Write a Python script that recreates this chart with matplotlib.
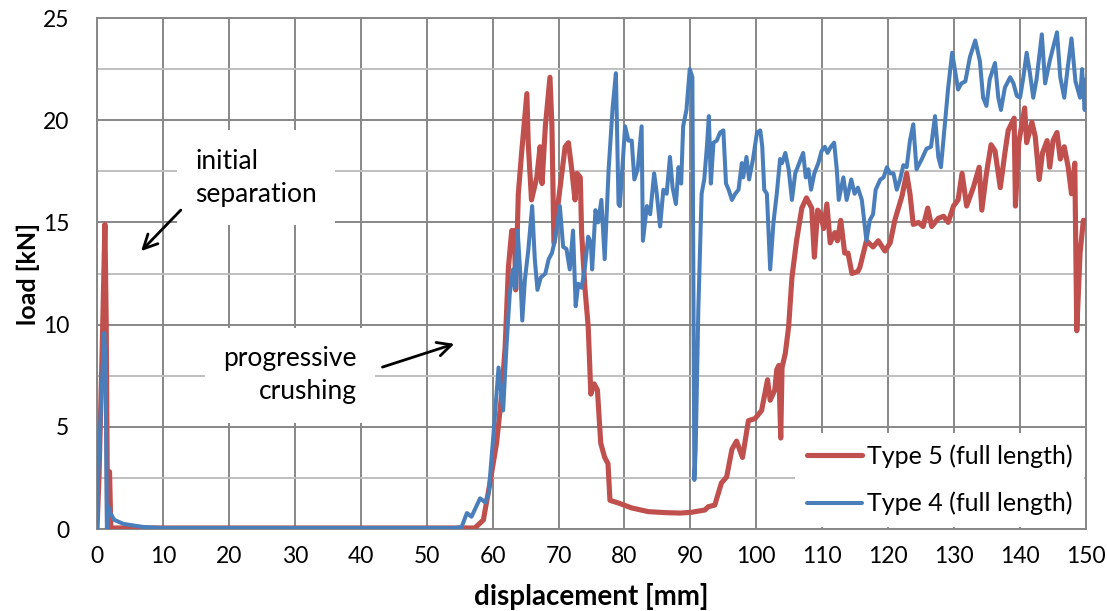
import matplotlib
matplotlib.use("Agg")
import matplotlib.pyplot as plt

plt.rcParams['font.family'] = ['Lato', 'DejaVu Sans']

# ---- data ----
type5_pts = [
    (0, 0), (0.3, 2.5), (0.8, 9), (1.2, 14.9), (1.4, 10), (1.6, 0.3), (1.9, 2.8), (2.1, 0.05),
    (3, 0.05), (10, 0.05), (20, 0.05), (30, 0.05), (40, 0.05), (50, 0.05), (56, 0.05),
    (57.3, 0.05), (58.6, 0.44), (59.6, 2.25), (60.6, 4.2), (61.4, 6.65), (61.9, 8.9),
    (62.4, 12.8), (62.9, 14.6), (63.3, 14.6), (63.5, 11.7), (63.9, 16.4), (64.4, 18.4),
    (65.2, 21.3), (65.4, 18.9), (65.9, 16.1), (66.7, 17.2), (67.2, 18.7), (67.5, 16.9),
    (68.0, 19.7), (68.7, 22.1), (69.0, 19.7), (69.3, 14.0), (70.0, 16.1), (71.0, 18.7),
    (71.5, 18.9), (72.0, 17.6), (72.5, 16.1), (72.8, 17.4), (73.3, 17.2), (73.5, 14.5),
    (74.0, 11.8), (74.5, 9.9), (74.9, 6.6), (75.4, 7.1), (75.9, 6.8), (76.4, 4.2),
    (77.0, 3.5), (77.5, 3.2), (77.8, 1.4), (79.1, 1.27), (81.1, 1.03), (83.6, 0.85),
    (86.2, 0.8), (88.5, 0.78), (90.2, 0.82), (92.2, 0.93), (92.7, 1.09), (93.7, 1.17),
    (94.7, 2.25), (95.5, 2.55), (96.3, 3.9), (97.0, 4.3), (97.9, 3.5), (98.8, 5.3),
    (99.8, 5.4), (100.8, 5.8), (101.7, 7.3), (102.1, 6.3), (102.8, 6.8), (103.1, 7.8),
    (103.4, 8.0), (103.7, 4.45), (103.9, 7.9), (104.4, 8.6), (104.9, 9.9), (105.4, 12.3),
    (106.1, 14.1), (106.9, 15.7), (107.6, 16.2), (108.4, 15.7), (108.8, 13.3), (109.3, 15.6),
    (109.8, 15.4), (110.2, 14.7), (110.7, 15.9), (111.2, 14.0), (111.9, 14.5), (112.3, 14.1),
    (112.8, 15.1), (113.4, 13.5), (113.9, 13.5), (114.5, 12.5), (115.4, 12.6), (115.7, 12.8),
    (116.7, 14.1), (117.7, 13.8), (118.5, 14.1), (119.5, 13.6), (120.3, 14.0), (121.0, 15.1),
    (122.1, 16.3), (122.8, 17.4), (123.3, 16.4), (123.8, 14.9), (124.6, 15.0), (125.3, 14.8),
    (126.0, 15.7), (126.6, 14.8), (127.6, 15.2), (128.4, 15.3), (129.1, 15.0), (129.9, 15.8),
    (130.6, 16.1), (131.2, 17.4), (131.9, 15.8), (132.9, 16.7), (133.8, 17.7), (134.2, 15.6),
    (134.9, 17.4), (135.6, 18.8), (136.2, 18.5), (137.0, 16.7), (137.7, 18.4), (138.2, 19.5),
    (139.1, 20.1), (139.3, 15.8), (139.8, 18.9), (140.7, 20.6), (141.0, 18.9), (141.8, 19.9),
    (142.3, 19.2), (142.9, 17.1), (143.4, 18.4), (144.1, 19.0), (144.5, 17.7), (145.0, 19.0),
    (145.6, 19.4), (146.1, 18.1), (146.7, 18.7), (147.3, 17.7), (147.8, 16.4), (148.1, 17.2),
    (148.3, 17.9), (148.6, 9.7), (149.1, 13.5), (149.6, 15.1), (150.0, 15.1),
]

type4_pts = [
    (0, 0), (0.05, 1.5), (0.6, 6), (1.1, 9.6), (1.3, 8), (1.5, 0), (1.7, 1.1), (2.0, 0.8),
    (2.6, 0.45), (4, 0.25), (7, 0.1), (10, 0.05), (20, 0.05), (30, 0.05), (40, 0.05),
    (50, 0.05), (54.3, 0.05), (55.3, 0.1), (56.1, 0.78), (56.8, 0.6), (58.1, 1.5),
    (58.9, 1.3), (59.4, 1.75), (60.1, 4.5), (60.9, 7.9), (61.6, 5.8), (62.1, 8.9),
    (62.6, 11.5), (63.1, 12.7), (63.4, 11.8), (63.8, 14.6), (64.2, 12.5), (64.5, 10.2),
    (64.9, 12.2), (65.4, 13.6), (66.0, 15.8), (66.4, 13.2), (66.8, 11.7), (67.3, 12.3),
    (68.0, 12.5), (68.5, 13.2), (69.0, 13.5), (69.5, 14.2), (70.2, 15.8), (70.7, 13.8),
    (71.2, 13.7), (71.7, 12.7), (72.2, 14.6), (72.6, 10.9), (73.0, 12.0), (73.5, 11.8),
    (74.0, 12.8), (74.5, 14.3), (74.9, 14.0), (75.1, 12.7), (75.6, 15.6), (76.0, 15.0),
    (76.5, 16.1), (77.0, 13.2), (77.6, 17.6), (78.2, 20.6), (78.7, 22.3), (79.1, 15.9),
    (79.3, 15.8), (80.1, 19.7), (80.6, 19.0), (81.1, 19.0), (81.5, 17.1), (82.0, 17.6),
    (82.6, 19.7), (82.8, 14.1), (83.4, 15.8), (83.9, 15.4), (84.5, 17.4), (84.9, 16.4),
    (85.4, 14.8), (85.9, 16.6), (86.4, 16.4), (86.9, 18.2), (87.3, 16.7), (87.8, 15.9),
    (88.2, 17.7), (88.6, 16.9), (88.9, 19.7), (89.4, 20.5), (89.9, 22.5), (90.3, 22.1),
    (90.6, 2.4), (90.8, 3.9), (91.2, 10.7), (91.7, 16.4), (92.1, 17.1), (92.5, 18.7),
    (92.8, 20.2), (93.1, 16.9), (93.5, 18.9), (94.0, 19.0), (94.5, 19.4), (95.0, 19.5),
    (95.4, 16.9), (95.8, 16.6), (96.3, 16.1), (96.8, 16.4), (97.3, 16.6), (97.8, 17.9),
    (98.0, 17.2), (98.5, 18.2), (98.9, 17.1), (99.5, 18.1), (100.1, 19.4), (100.6, 19.5),
    (100.9, 18.7), (101.2, 16.6), (101.6, 16.4), (102.1, 12.7), (102.6, 15.0), (103.1, 16.4),
    (103.6, 18.1), (103.9, 17.9), (104.4, 18.4), (104.9, 17.6), (105.4, 16.1), (105.9, 17.4),
    (106.5, 17.9), (107.1, 18.4), (107.5, 17.2), (107.9, 17.6), (108.3, 16.6), (108.8, 17.4),
    (109.4, 17.9), (109.9, 18.5), (110.4, 18.7), (110.8, 18.4), (111.3, 18.7), (111.8, 18.9),
    (112.2, 17.6), (112.5, 16.1), (113.2, 17.2), (113.7, 16.1), (114.4, 17.1), (114.9, 16.4),
    (115.4, 16.7), (116.0, 16.1), (116.7, 14.1), (117.2, 15.1), (117.7, 15.4), (118.1, 16.6),
    (118.8, 17.1), (119.3, 17.2), (119.8, 17.7), (120.3, 17.4), (120.8, 17.4), (121.3, 16.6),
    (121.8, 17.1), (122.3, 17.8), (122.8, 17.7), (123.3, 19.0), (123.8, 19.8), (124.3, 17.6),
    (125.1, 18.1), (125.8, 18.6), (126.5, 18.7), (127.1, 20.2), (127.6, 18.2), (128.0, 17.7),
    (128.5, 19.5), (129.1, 21.6), (129.7, 23.3), (130.1, 22.5), (130.6, 21.5), (131.1, 21.8),
    (131.7, 21.9), (132.4, 23.1), (133.2, 23.9), (133.9, 22.9), (134.4, 21.1), (134.9, 20.7),
    (135.4, 22.0), (136.2, 22.8), (136.7, 21.1), (137.1, 20.5), (137.7, 21.6), (138.5, 22.1),
    (139.0, 21.8), (139.5, 21.2), (140.0, 21.1), (140.5, 22.1), (141.0, 23.3), (141.5, 22.3),
    (142.0, 21.1), (142.5, 22.0), (143.3, 24.2), (143.8, 21.8), (144.5, 22.9), (145.6, 24.3),
    (146.1, 22.1), (146.7, 21.1), (147.2, 22.5), (147.8, 24.0), (148.4, 21.9), (149.1, 21.1),
    (149.4, 22.5), (149.8, 20.5), (150.0, 22.0),
]

series_labels = ["Type 5 (full length)", "Type 4 (full length)"]
x_ticks = list(range(0, 151, 10))
y_ticks = list(range(0, 26, 5))
y_minor = [2.5, 7.5, 12.5, 17.5, 22.5]

t5_x, t5_y = zip(*type5_pts)
t4_x, t4_y = zip(*type4_pts)

RED = '#C0504D'
BLUE = '#4A7EBB'
GRID_MAJ = '#878787'
GRID_MIN = '#BFBFBF'

fig = plt.figure(figsize=(11.07, 6.11), dpi=100)
W, H = 1107, 611
ax = fig.add_axes([97 / W, 1 - 529 / H, (1086 - 97) / W, (529 - 18) / H])

ax.plot(t5_x, t5_y, color=RED, lw=3.7, solid_joinstyle='round', solid_capstyle='round',
        label=series_labels[0], zorder=3)
ax.plot(t4_x, t4_y, color=BLUE, lw=2.9, solid_joinstyle='round', solid_capstyle='round',
        label=series_labels[1], zorder=4)

ax.set_xlim(0, 150)
ax.set_ylim(0, 25)
ax.set_xticks(x_ticks)
ax.set_yticks(y_ticks)
ax.set_yticks(y_minor, minor=True)
ax.grid(which='major', color=GRID_MAJ, lw=1.4, zorder=0)
ax.grid(which='minor', axis='y', color=GRID_MIN, lw=1.4, zorder=0)
ax.set_axisbelow(True)
for s in ax.spines.values():
    s.set_color(GRID_MAJ)
    s.set_linewidth(1.4)
ax.tick_params(axis='both', which='major', labelsize=16.5, length=0, colors='black')
ax.tick_params(axis='x', pad=12)
ax.tick_params(axis='y', pad=20)
ax.tick_params(which='minor', length=0)

ax.set_xlabel('displacement [mm]', fontsize=20, fontweight='bold', labelpad=12)
ax.set_ylabel('load [kN]', fontsize=18, fontweight='bold', labelpad=2)

# annotations
box = dict(boxstyle='square,pad=0.7', facecolor='white', edgecolor='none')
ax.text(14.9, 18.6, 'initial\nseparation', fontsize=19, ha='left', va='top',
        linespacing=1.4, bbox=box, zorder=5)
ax.annotate('', xy=(6.4, 13.5), xytext=(13.0, 15.7),
            arrowprops=dict(arrowstyle='->', lw=2, color='black', mutation_scale=25), zorder=6)

ax.text(39.4, 8.95, 'progressive\ncrushing', fontsize=19, ha='right', va='top',
        multialignment='right', linespacing=1.4, bbox=box, zorder=5)
ax.annotate('', xy=(54.6, 9.1), xytext=(42.9, 7.88),
            arrowprops=dict(arrowstyle='->', lw=2, color='black', mutation_scale=25), zorder=6)

leg = ax.legend(loc='lower right', bbox_to_anchor=(1.0, 0.0), fontsize=18, frameon=True,
                fancybox=False, edgecolor='none', facecolor='white', framealpha=1,
                handlelength=2.2, handletextpad=0.2, labelspacing=0.95, borderaxespad=0.1,
                borderpad=0.45)
leg.set_zorder(5)

fig.savefig('out.png', dpi=100)
